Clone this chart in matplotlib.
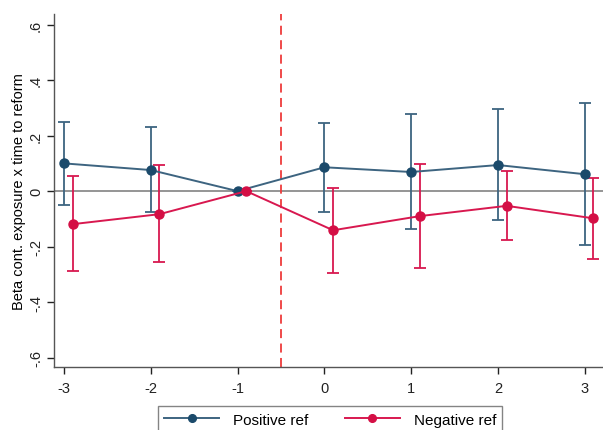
import numpy as np
import matplotlib.pyplot as plt

plt.rcParams['font.family'] = ['Liberation Sans', 'DejaVu Sans']

# event time relative to reform
periods = [-3, -2, -1, 0, 1, 2, 3]

# positive reference group
pos_beta = [0.100, 0.076, 0.0, 0.086, 0.069, 0.094, 0.061]
pos_hi = [0.249, 0.230, 0.0, 0.245, 0.277, 0.295, 0.317]
pos_lo = [-0.050, -0.076, 0.0, -0.076, -0.137, -0.104, -0.195]

# negative reference group
neg_beta = [-0.119, -0.083, 0.0, -0.141, -0.090, -0.053, -0.098]
neg_hi = [0.054, 0.094, 0.0, 0.013, 0.097, 0.071, 0.049]
neg_lo = [-0.287, -0.256, 0.0, -0.296, -0.278, -0.177, -0.245]

yticks = [-0.6, -0.4, -0.2, 0, 0.2, 0.4, 0.6]
ytick_labels = ['-.6', '-.4', '-.2', '0', '.2', '.4', '.6']

blue_line = '#3d6480'
blue_mark = '#1b4a6b'
red = '#d8184f'

fig = plt.figure(figsize=(6.03, 4.31), dpi=100)
ax = fig.add_axes([0.0896, 0.146, 0.9104, 0.819])

x = np.array(periods, dtype=float)
xp = x
xn = x + 0.1

ax.axhline(0, color='#8c8c8c', lw=1.3, zorder=1)
ax.axvline(-0.5, color='#ee3b3b', lw=1.3, ls=(0, (5, 3)), zorder=1)

p = np.array(pos_beta)
ax.errorbar(xp, p, yerr=[p - np.array(pos_lo), np.array(pos_hi) - p],
            fmt='none', ecolor=blue_line, elinewidth=1.3, capsize=4, capthick=1.3, zorder=2)
ax.plot(xp, p, color=blue_line, lw=1.4, marker='o', ms=6.5,
        mfc=blue_mark, mec=blue_mark, label='Positive ref', zorder=3)

n = np.array(neg_beta)
ax.errorbar(xn, n, yerr=[n - np.array(neg_lo), np.array(neg_hi) - n],
            fmt='none', ecolor=red, elinewidth=1.3, capsize=4, capthick=1.3, zorder=2)
ax.plot(xn, n, color=red, lw=1.4, marker='o', ms=6.5,
        mfc='#d40f45', mec='#d40f45', label='Negative ref', zorder=3)

ax.set_xlim(-3.115, 3.21)
ax.set_ylim(-0.634, 0.638)
ax.set_xticks(periods)
ax.set_xticklabels([str(v) for v in periods], fontsize=10.5)
ax.set_yticks(yticks)
ax.set_yticklabels(ytick_labels, fontsize=10.5, rotation=90, va='center')
ax.set_ylabel('Beta cont. exposure x time to reform', fontsize=10.5, labelpad=2)

for s in ['top', 'right']:
    ax.spines[s].set_visible(False)
for s in ['left', 'bottom']:
    ax.spines[s].set_color('#555555')
    ax.spines[s].set_linewidth(1.0)
ax.tick_params(colors='#222222', length=5, width=1.0, pad=5)
ax.tick_params(axis='y', pad=3)

leg = ax.legend(loc='upper center', bbox_to_anchor=(0.503, -0.09), ncol=2,
                fontsize=11, frameon=True, fancybox=False, handlelength=3.6,
                columnspacing=2.4, borderpad=0.4, handletextpad=0.9, markerscale=0.85)
leg.get_frame().set_edgecolor('#666666')
leg.get_frame().set_linewidth(1.0)

fig.savefig('out.png', dpi=100)
